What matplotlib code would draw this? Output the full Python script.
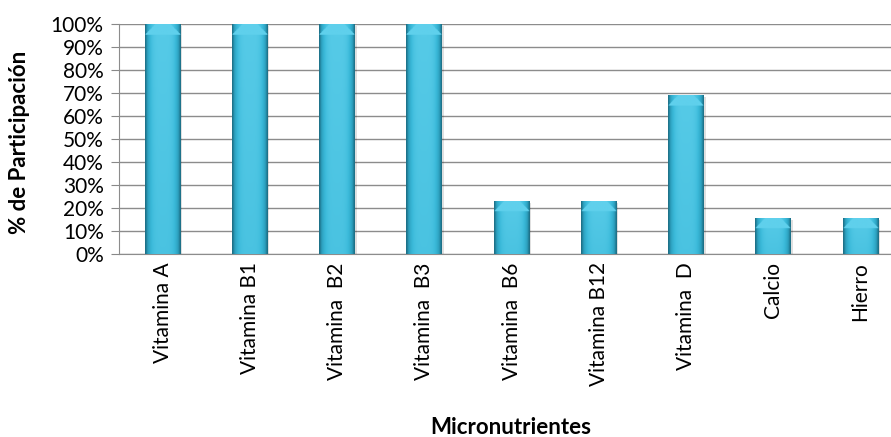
import numpy as np
import matplotlib
matplotlib.use("Agg")
import matplotlib.pyplot as plt
from matplotlib.colors import LinearSegmentedColormap

categories = ["Vitamina A", "Vitamina B1", "Vitamina  B2", "Vitamina  B3", "Vitamina  B6",
              "Vitamina B12", "Vitamina  D", "Calcio", "Hierro"]
values = [100, 100, 100, 100, 23, 23, 69, 15.5, 15.5]
yticks = list(range(0, 101, 10))
ytick_labels = [f"{v}%" for v in yticks]

plt.rcParams['font.family'] = ['Lato', 'DejaVu Sans']

fig = plt.figure(figsize=(8.91, 4.37), dpi=100)
ax = fig.add_axes([119/891, 1-254/437, (904-119)/891, 230/437])

x = np.arange(len(categories))
bars = ax.bar(x, values, width=0.41, color="#38b6d6", zorder=3, edgecolor="none")

# cylinder-like shading
nx, ny = 64, 256
u = np.linspace(-1, 1, nx)
horiz = 1 - 0.6 * np.abs(u) ** 4
cmap = LinearSegmentedColormap.from_list("b", ["#1d6f86", "#2b9dbb", "#3ab9d9", "#5fd0ec"])
for b in bars:
    x0, w, h = b.get_x(), b.get_width(), b.get_height()
    hpx = h * 2.3
    img = np.tile(horiz, (ny, 1)) * 0.95
    vv = np.linspace(0, 1, ny)[:, None]
    img = img * (0.93 + 0.07 * vv)
    frac = min(10.0 / hpx, 0.5)
    for i in range(ny):
        t = vv[i, 0]
        if t > 1 - frac:
            depth = (t - (1 - frac)) / frac
            edge = np.abs(u) < (1 - depth * 0.55)
            img[i, edge] = 1.0
    im = ax.imshow(img, extent=[x0, x0 + w, 0, h], origin="lower", aspect="auto",
                   cmap=cmap, vmin=0.4, vmax=1.0, zorder=3.5, interpolation="bilinear")
    im.set_clip_path(b)
    ax.bar(b.get_x() + w / 2 + 0.02, h, width=w, bottom=-0.8, color="#000000",
           alpha=0.12, zorder=2.5, edgecolor="none")

ax.set_xlim(-0.5, len(categories) - 0.5)
ax.set_ylim(0, 100)
ax.set_yticks(yticks)
ax.set_yticklabels(ytick_labels, fontsize=15)
ax.set_xticks(x)
ax.set_xticklabels(categories, rotation=90, fontsize=15)
ax.tick_params(axis="x", length=0, pad=6)
ax.tick_params(axis="y", length=6, color="#888888", pad=5)
ax.grid(axis="y", color="#8c8c8c", linewidth=1.0, zorder=0)
for s in ["top", "right"]:
    ax.spines[s].set_visible(False)
ax.spines["left"].set_color("#8c8c8c")
ax.spines["bottom"].set_color("#8c8c8c")

fig.text(20/891, 1-142/437, "% de Participación", fontsize=16, fontweight="bold",
         rotation=90, ha="center", va="center")
fig.text(511/891, 1-427/437, "Micronutrientes", fontsize=16, fontweight="bold",
         ha="center", va="center")

fig.savefig("out.png", dpi=100)
